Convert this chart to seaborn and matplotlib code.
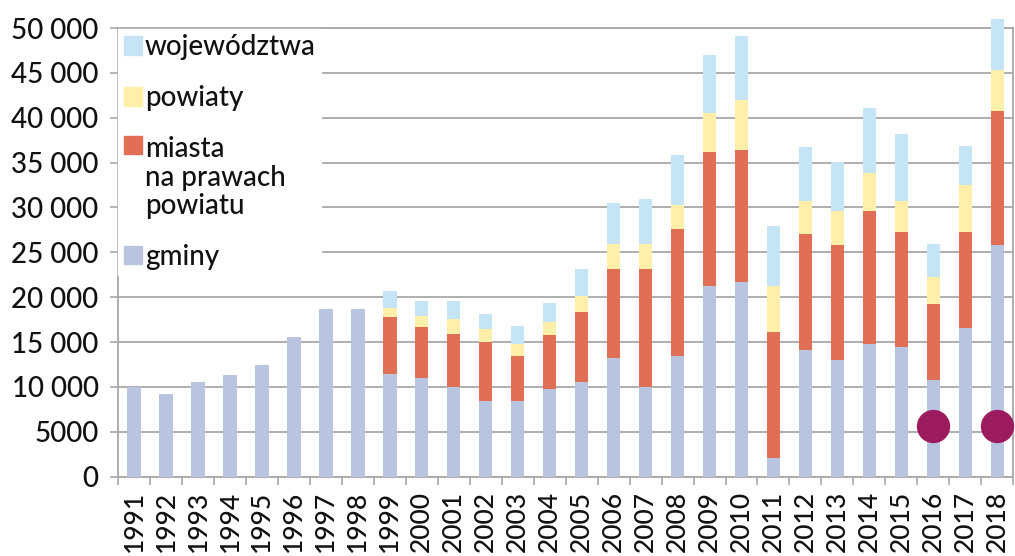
import numpy as np
import pandas as pd
import matplotlib
matplotlib.use("Agg")
import matplotlib.pyplot as plt
import seaborn as sns
from matplotlib.patches import Patch
from matplotlib.legend_handler import HandlerPatch

# === Data ===
years = [str(y) for y in range(1991, 2019)]
gminy = [10000, 9200, 10600, 11350, 12400, 15550, 18650, 18650,
         11500, 11000, 10000, 8450, 8450, 9750, 10600, 13200, 10000, 13500,
         21200, 21700, 2050, 14100, 13000, 14800, 14500, 10800, 16600, 25800]
miasta = [0, 0, 0, 0, 0, 0, 0, 0,
          6300, 5700, 5900, 6550, 4950, 6050, 7700, 10000, 13200, 14100,
          15000, 14700, 14050, 12900, 12800, 14800, 12800, 8400, 10700, 14900]
powiaty = [0, 0, 0, 0, 0, 0, 0, 0,
           1050, 1200, 1650, 1500, 1400, 1400, 1800, 2750, 2750, 2700,
           4300, 5600, 5100, 3700, 3800, 4300, 3400, 3100, 5200, 4600]
wojewodztwa = [0, 0, 0, 0, 0, 0, 0, 0,
               1850, 1700, 2050, 1600, 2050, 2200, 3100, 4550, 4950, 5500,
               6450, 7100, 6750, 6000, 5500, 7200, 7500, 3650, 4400, 5700]
marker_years = ["2016", "2018"]
marker_vals = [5700, 5700]

yticks = [0, 5000, 10000, 15000, 20000, 25000, 30000, 35000, 40000, 45000, 50000]
ytick_labels = ["0", "5000", "10 000", "15 000", "20 000", "25 000",
                "30 000", "35 000", "40 000", "45 000", "50 000"]

colors = {
    "gminy": "#B9C5DF",
    "miasta": "#E16F56",
    "powiaty": "#FFEFA8",
    "wojewodztwa": "#C5E5F7",
}
grid_c = "#A8A8A8"
text_c = "#111111"

df = pd.DataFrame({"rok": years, "gminy": gminy, "miasta": miasta,
                   "powiaty": powiaty, "wojewodztwa": wojewodztwa})
df["c_gm"] = df["gminy"]
df["c_mi"] = df["c_gm"] + df["miasta"]
df["c_po"] = df["c_mi"] + df["powiaty"]
df["c_wo"] = df["c_po"] + df["wojewodztwa"]

sns.set_theme(style="white")
plt.rcParams["font.family"] = ["Lato", "DejaVu Sans"]
plt.rcParams["font.weight"] = "medium"

fig = plt.figure(figsize=(10.15, 5.56), dpi=100)
ax = fig.add_axes([0.1163, 0.1426, 0.882, 0.807])

# stacked bars drawn as overlaid cumulative totals
for col, key in [("c_wo", "wojewodztwa"), ("c_po", "powiaty"),
                 ("c_mi", "miasta"), ("c_gm", "gminy")]:
    sns.barplot(data=df, x="rok", y=col, order=years, color=colors[key],
                saturation=1, width=0.42, linewidth=0, ax=ax, zorder=3)
for p in ax.patches:
    p.set_clip_on(False)

sns.stripplot(x=marker_years, y=marker_vals, order=years, jitter=False,
              color="#9B1B5E", size=24, linewidth=0, ax=ax, zorder=6,
              clip_on=False)

ax.set_xlim(-0.5, 27.4)
ax.set_ylim(0, 50000)
ax.set_yticks(yticks)
ax.set_yticklabels(ytick_labels)
ax.set_xticks(range(len(years)))
ax.set_xticklabels(years, rotation=90)
ax.set_xticks(np.arange(-0.5, len(years), 1), minor=True)
ax.tick_params(axis="x", which="major", length=0, pad=10,
               labelsize=19, labelcolor=text_c)
ax.tick_params(axis="x", which="minor", length=6, width=1.2,
               color=grid_c, direction="out", bottom=True)
ax.tick_params(axis="y", length=6, width=1.2, color=grid_c, pad=8,
               labelsize=20, labelcolor=text_c, left=True)
ax.set_xlabel("")
ax.set_ylabel("")
ax.yaxis.grid(True, color=grid_c, linewidth=1.3)
ax.set_axisbelow(True)
for s in ax.spines.values():
    s.set_color(grid_c)
    s.set_linewidth(1.3)


class TopPatch(HandlerPatch):
    # put the square next to the first line of a multi-line label
    def __init__(self, shift, **kw):
        super().__init__(**kw)
        self.shift = shift

    def create_artists(self, legend, orig_handle, xdescent, ydescent,
                       width, height, fontsize, trans):
        arts = super().create_artists(legend, orig_handle, xdescent, ydescent,
                                      width, height, fontsize, trans)
        arts[0].set_y(arts[0].get_y() + self.shift * fontsize)
        return arts


h_wo = Patch(color=colors["wojewodztwa"])
h_po = Patch(color=colors["powiaty"])
h_mi = Patch(color=colors["miasta"])
h_gm = Patch(color=colors["gminy"])
leg = ax.legend([h_wo, h_po, h_mi, h_gm],
                ["województwa", "powiaty", "miasta\nna prawach\npowiatu", "gminy"],
                handler_map={h_mi: TopPatch(1.2)},
                loc="upper left", bbox_to_anchor=(0.0, 0.998),
                frameon=True, fancybox=False, framealpha=1,
                edgecolor="white", facecolor="white",
                fontsize=20, handlelength=0.65, handleheight=0.65,
                handletextpad=0.12, labelspacing=0.9, borderpad=0.2,
                borderaxespad=0.0)
for t in leg.get_texts():
    t.set_color(text_c)
    t.set_linespacing(1.1)

fig.savefig("out.png", dpi=100)
